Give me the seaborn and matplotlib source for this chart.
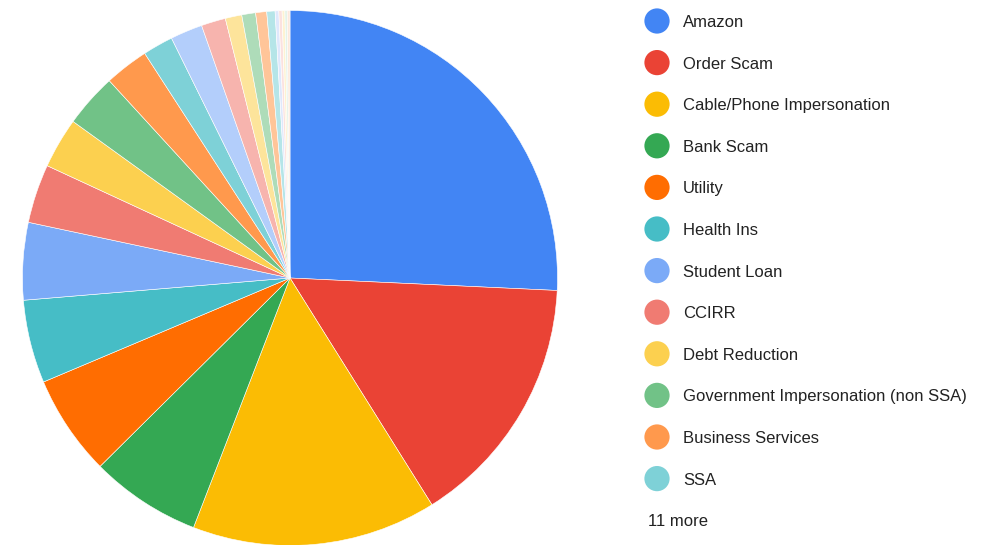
import matplotlib
matplotlib.use("Agg")
import matplotlib.pyplot as plt
import seaborn as sns

# categories (first 12 named in the legend, 11 more hidden)
labels = ["Amazon", "Order Scam", "Cable/Phone Impersonation", "Bank Scam", "Utility",
          "Health Ins", "Student Loan", "CCIRR", "Debt Reduction",
          "Government Impersonation (non SSA)", "Business Services", "SSA",
          "Other 1", "Other 2", "Other 3", "Other 4", "Other 5", "Other 6",
          "Other 7", "Other 8", "Other 9", "Other 10", "Other 11"]
# share of calls
values = [92.7, 55.3, 53.2, 24.1, 21.9, 18.1, 16.8, 12.8, 11.0, 11.7, 9.6, 6.6,
          7.0, 5.3, 3.6, 3.0, 2.4, 1.8, 0.8, 0.7, 0.6, 0.5, 0.6]
colors = ["#4285f4", "#ea4335", "#fbbc04", "#34a853", "#ff6d01", "#46bdc6",
          "#7baaf7", "#f07b72", "#fcd04f", "#71c287", "#ff994d", "#7ed1d7",
          "#b3cefb", "#f7b4ae", "#fde49b", "#aedcb9", "#ffc599", "#b5e5e8",
          "#dfe8fc", "#fbe1df", "#fef3d2", "#e4f3e8", "#fde9dc"]
n_shown = 12
more_label = "11 more"

sns.set_style("white")
plt.rcParams["font.family"] = ["Liberation Sans", "DejaVu Sans"]

W, H = 1004, 545
fig = plt.figure(figsize=(W / 100, H / 100), dpi=100)
ax = fig.add_axes([0, 0, 1, 1])

ax.pie(values, colors=colors, startangle=90, counterclock=False,
       center=(290, H - 278), radius=267.5, frame=True,
       wedgeprops=dict(edgecolor="white", linewidth=0.4))
ax.set_xlim(0, W)
ax.set_ylim(0, H)
ax.set_aspect("equal")
ax.axis("off")

# legend
y0, step = 21, 41.6
fs = 12
for i in range(n_shown):
    y = H - (y0 + i * step)
    ax.scatter([657], [y], s=330, color=colors[i], edgecolors="none", zorder=5)
    ax.text(683, y - 1.5, labels[i], fontsize=fs, color="#222222", va="center", ha="left")
ax.text(648, H - (y0 + n_shown * step) - 1.5, more_label, fontsize=fs, color="#222222",
        va="center", ha="left")

fig.savefig("out.png", dpi=100)
